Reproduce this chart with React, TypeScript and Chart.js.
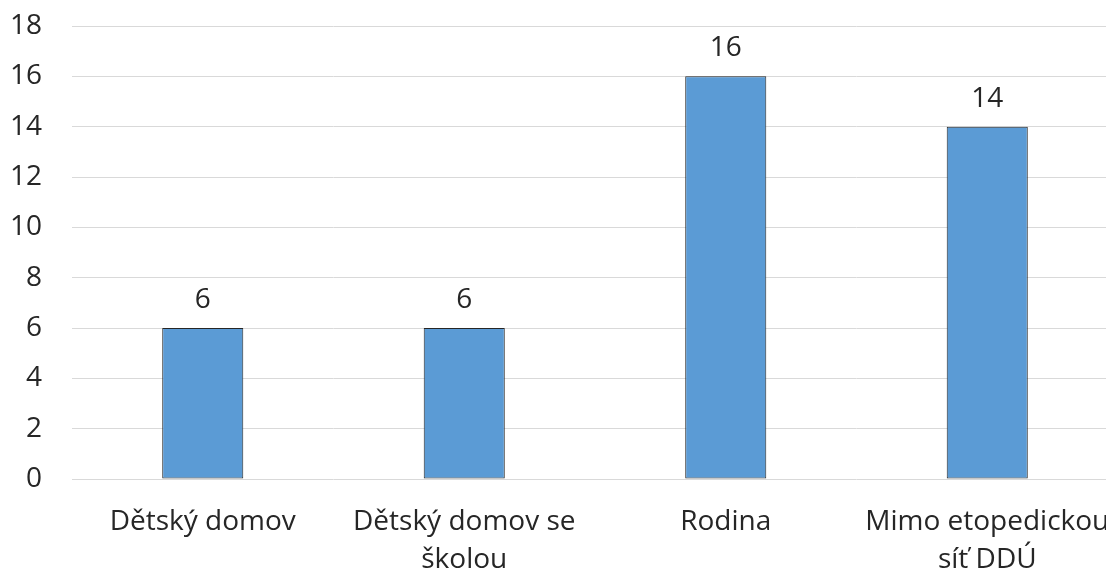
import React, { useEffect, useRef } from "react";
import { Chart, registerables } from "chart.js";

Chart.register(...registerables);

const categories: (string | string[])[] = [
  "Dětský domov",
  ["Dětský domov se", "školou"],
  "Rodina",
  ["Mimo etopedickou", "síť DDÚ"],
];
const values = [6, 6, 16, 14];
const yMin = 0;
const yMax = 18;
const yStep = 2;

const FONT = "'Open Sans', 'Noto Sans', sans-serif";
const TEXT = "#262626";

const valueLabels = {
  id: "valueLabels",
  afterDatasetsDraw(chart: any) {
    const ctx = chart.ctx;
    const meta = chart.getDatasetMeta(0);
    ctx.save();
    ctx.font = `28px ${FONT}`;
    ctx.fillStyle = TEXT;
    ctx.textAlign = "center";
    ctx.textBaseline = "middle";
    meta.data.forEach((el: any, i: number) => {
      ctx.fillText(String(values[i]), el.x, el.y - 28);
    });
    ctx.restore();
  },
};

export default function App() {
  const ref = useRef<HTMLCanvasElement | null>(null);
  useEffect(() => {
    if (!ref.current) return;
    const chart = new Chart(ref.current, {
      type: "bar",
      data: {
        labels: categories,
        datasets: [
          {
            data: values,
            backgroundColor: "#5B9BD5",
            borderColor: "#262626",
            borderWidth: 1,
            borderSkipped: false,
            categoryPercentage: 1,
            barPercentage: 0.31,
          },
        ],
      },
      options: {
        responsive: false,
        animation: false,
        maintainAspectRatio: false,
        layout: { padding: { top: 26, right: 2, left: 0, bottom: 0 } },
        plugins: { legend: { display: false }, tooltip: { enabled: false } },
        scales: {
          x: {
            grid: { display: false, drawTicks: false },
            border: { display: false },
            ticks: {
              color: TEXT,
              font: { family: FONT, size: 28, lineHeight: 1.35 },
              padding: 24,
              maxRotation: 0,
              autoSkip: false,
            },
            afterFit(scale: any) {
              scale.height = 92;
              scale.paddingLeft = 0;
              scale.paddingRight = 0;
            },
          },
          y: {
            min: yMin,
            max: yMax,
            grid: { color: "#d9d9d9", drawTicks: false },
            border: { display: false },
            ticks: {
              stepSize: yStep,
              color: TEXT,
              font: { family: FONT, size: 28 },
              padding: 30,
            },
            afterFit(scale: any) {
              scale.width = 72;
              scale.paddingTop = 0;
              scale.paddingBottom = 0;
            },
          },
        },
      },
      plugins: [valueLabels],
    });
    return () => chart.destroy();
  }, []);
  return (
    <div
      style={{
        position: "fixed",
        left: 0,
        top: 0,
        width: 1106,
        height: 571,
        overflow: "hidden",
        background: "#fff",
      }}
    >
      <canvas ref={ref} width={1120} height={571} style={{ display: "block" }} />
    </div>
  );
}
